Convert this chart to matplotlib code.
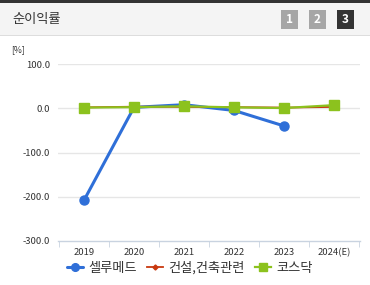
import matplotlib
matplotlib.use("Agg")
import matplotlib.pyplot as plt
from matplotlib.patches import Rectangle
import numpy as np

plt.rcParams['font.family'] = ['Noto Sans CJK KR', 'DejaVu Sans']

years = ["2019", "2020", "2021", "2022", "2023", "2024(E)"]
cellumed = [-208.0, 2.0, 8.0, -5.0, -40.0, np.nan]
construction = [2.0, 3.5, 3.0, 2.5, 1.5, 3.0]
kosdaq = [1.5, 2.5, 4.5, 2.0, 0.5, 7.0]
series_names = ["셀루메드", "건설,건축관련", "코스닥"]
yticks = [100, 0, -100, -200, -300]

W, H = 370, 285
fig = plt.figure(figsize=(W / 100, H / 100), dpi=100)

def fx(px):
    return px / W

def fy(py):
    return 1 - py / H

# header
fig.patches.append(Rectangle((0, fy(35)), 1, fy(2) - fy(35), transform=fig.transFigure,
                             facecolor="#f4f4f4", edgecolor="none", zorder=0))
fig.patches.append(Rectangle((0, fy(2.5)), 1, 2.5 / H, transform=fig.transFigure,
                             facecolor="#333333", edgecolor="none", zorder=1))
fig.patches.append(Rectangle((0, fy(36)), 1, 1 / H, transform=fig.transFigure,
                             facecolor="#dddddd", edgecolor="none", zorder=1))
fig.text(fx(12), fy(19), "순이익률", fontsize=9.5, color="#333333", va="center", ha="left")
for i, (lab, col) in enumerate([("1", "#a6a6a6"), ("2", "#a6a6a6"), ("3", "#333333")]):
    x0 = 281 + 28 * i
    fig.patches.append(Rectangle((fx(x0), fy(29)), 17 / W, 19 / H, transform=fig.transFigure,
                                 facecolor=col, edgecolor="none", zorder=2))
    fig.text(fx(x0 + 8.5), fy(19.5), lab, fontsize=8.5, color="white", ha="center", va="center",
             fontweight="bold", zorder=3)

fig.text(fx(11), fy(50), "[%]", fontsize=6.2, color="#333333", va="center", ha="left")

ax = fig.add_axes([fx(58), fy(241), fx(360) - fx(58), fy(64) - fy(241)])
x = np.arange(len(years))
ax.set_xlim(-0.52, 5.52)
ax.set_ylim(-300, 100)

for v in yticks[:-1]:
    ax.axhline(v, color="#e6e6e6", lw=1, zorder=0)

ax.plot(x, cellumed, color="#2f6fd8", lw=2.2, marker="o", ms=6.5, zorder=3,
        solid_capstyle="round", label=series_names[0])
ax.plot(x, construction, color="#c8380f", lw=1.3, marker="D", ms=3, zorder=4,
        label=series_names[1])
ax.plot(x, kosdaq, color="#8cc21e", lw=1.6, marker="s", ms=6.5, zorder=5,
        label=series_names[2])

for s in ["top", "right", "left"]:
    ax.spines[s].set_visible(False)
ax.spines["bottom"].set_color("#c9d3e0")
ax.spines["bottom"].set_linewidth(1)

ax.set_yticks(yticks)
ax.set_yticklabels([f"{v:.1f}" for v in yticks], fontsize=6.8, color="#333333")
ax.tick_params(axis="y", length=0, pad=5.5)
ax.set_xticks(x)
ax.set_xticklabels(years, fontsize=6.8, color="#333333")
ax.tick_params(axis="x", length=0, pad=5)
ax.set_xticks(np.arange(-0.5, 6, 1), minor=True)
ax.tick_params(axis="x", which="minor", length=4, color="#c9d3e0", direction="out")

leg = fig.legend(loc="center", bbox_to_anchor=(fx(190), fy(268)), ncol=3, frameon=False,
                 fontsize=9.5, handlelength=1.2, handletextpad=0.4, columnspacing=0.8,
                 labelcolor="#333333", markerscale=0.85)

fig.savefig("out.png", dpi=100)
